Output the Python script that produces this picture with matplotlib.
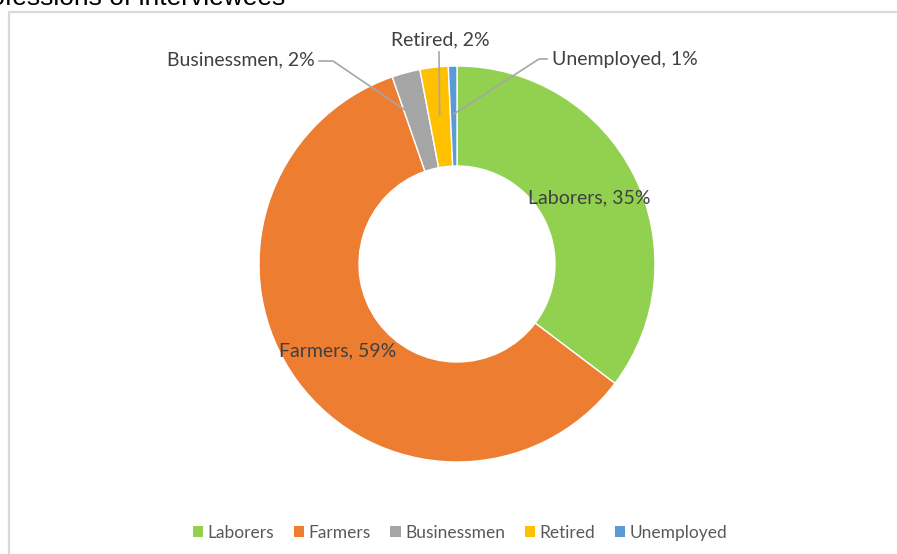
import numpy as np
import matplotlib
matplotlib.use("Agg")
import matplotlib.pyplot as plt
from matplotlib.patches import Patch

# Share of each profession among the interviewees (%)
categories = ["Laborers", "Farmers", "Businessmen", "Retired", "Unemployed"]
shares = [35.3, 59.4, 2.3, 2.3, 0.7]
colors = ["#92D050", "#ED7D31", "#A5A5A5", "#FFC000", "#5B9BD5"]
title = "Professions of interviewees"

W, H = 897, 554
FONT = "Lato"
LABEL_COLOR = "#404040"
LEGEND_COLOR = "#595959"

fig = plt.figure(figsize=(W / 100, H / 100), dpi=100)
ax = fig.add_axes([0, 0, 1, 1])
ax.set_xlim(0, W)
ax.set_ylim(H, 0)
ax.axis("off")

# chart frame (left and top edges visible)
ax.plot([9, 9, W + 5], [H + 5, 11.5, 11.5], color="#D9D9D9", lw=1.6,
        solid_capstyle="butt", zorder=1)

# title, partially outside the canvas
ax.text(285, 4.7, title, ha="right", va="baseline", fontsize=19,
        family="Liberation Sans", color="black")

# donut drawn in a separate axes with y pointing up
pax = fig.add_axes([0, 0, 1, 1])
pax.set_xlim(0, W)
pax.set_ylim(0, H)
pax.axis("off")
cx, cy = 457, H - 264
R, ring = 198, 100
wedges, _ = pax.pie(shares, colors=colors, startangle=90, counterclock=False,
                    radius=R, center=(cx, cy), frame=True,
                    wedgeprops=dict(width=ring, edgecolor="white", linewidth=1.0))
pax.set_xlim(0, W)
pax.set_ylim(0, H)
pax.set_aspect("equal")
pax.axis("off")

total = float(sum(shares))
cum = np.cumsum([0] + shares)
mid_frac = (cum[:-1] + cum[1:]) / 2 / total
# angle measured clockwise from 12 o'clock
theta = 2 * np.pi * mid_frac


def ring_point(i, r):
    return cx + r * np.sin(theta[i]), cy + r * np.cos(theta[i])


def label(i):
    return f"{categories[i]}, {round(shares[i] / total * 100):.0f}%"


# labels inside the ring
for i in (0, 1):
    x, y = ring_point(i, R - ring / 2)
    pax.text(x, y, label(i), ha="center", va="center", fontsize=14,
             family=FONT, color=LABEL_COLOR)

# labels outside with leader lines (positions in pixel coords, y down)
outer = {
    2: dict(text=(315, 60), ha="right", path=[(319, 61), (333, 61)]),
    3: dict(text=(440, 40), ha="center", path=[(439, 52)]),
    4: dict(text=(552, 60), ha="left", path=[(547, 59), (539, 59)]),
}
for i, spec in outer.items():
    tx, ty = spec["text"]
    pax.text(tx, H - ty, label(i), ha=spec["ha"], va="center", fontsize=14,
             family=FONT, color=LABEL_COLOR)
    ex, ey = ring_point(i, 150)
    xs = [p[0] for p in spec["path"]] + [ex]
    ys = [H - p[1] for p in spec["path"]] + [ey]
    pax.plot(xs, ys, color="#A6A6A6", lw=1.2, zorder=5)

handles = [Patch(facecolor=c, edgecolor="none") for c in colors]
leg = fig.legend(handles, categories, loc="center",
                 bbox_to_anchor=(460 / W, 1 - 533 / H), ncol=5, frameon=False,
                 prop=dict(family=FONT, size=12.5), handlelength=0.58,
                 handleheight=0.58, handletextpad=0.25, columnspacing=1.15)
for t in leg.get_texts():
    t.set_color(LEGEND_COLOR)

fig.savefig("out.png", dpi=100, facecolor="white")
